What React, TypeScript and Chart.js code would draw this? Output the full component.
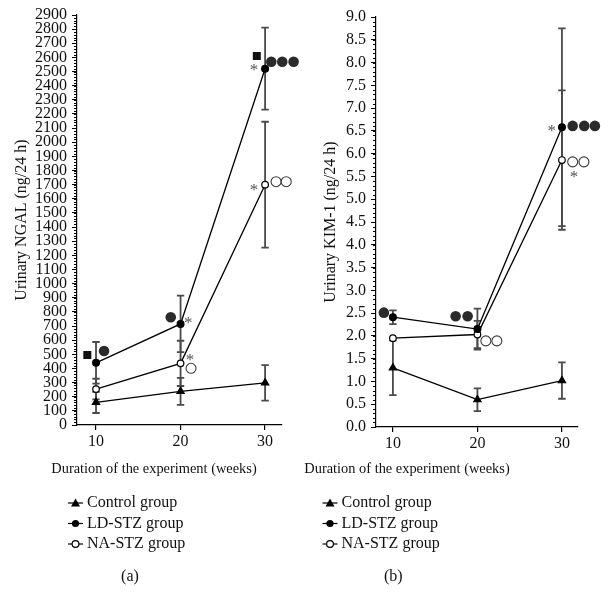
import React, { useEffect, useRef } from "react";
import { Chart, registerables } from "chart.js";

Chart.register(...registerables);

// ---------- data ----------
const weeks = [10, 20, 30];
const seriesNames = ["Control group", "LD-STZ group", "NA-STZ group"];

// (a) Urinary NGAL (ng/24 h)
const ngalControl = [160, 238, 298];
const ngalControlErr = [75, 95, 125];
const ngalLD = [440, 715, 2520];
const ngalLDErr = [147, 200, 290];
const ngalNA = [254, 436, 1700];
const ngalNAErr = [73, 160, 445];

// (b) Urinary KIM-1 (ng/24 h)
const kimControl = [1.3, 0.6, 1.02];
const kimControlErr = [0.6, 0.25, 0.4];
const kimLD = [2.41, 2.15, 6.58];
const kimLDErr = [0.15, 0.45, 2.17];
const kimNA = [1.95, 2.03, 5.86];
const kimNAErr = [0, 0.3, 1.53];

// significance symbols: [week, value, symbol]
const ngalMarks: [number, number, string][] = [
  [8.97, 495, "square"],
  [10.95, 523, "dot"],
  [18.84, 762, "dot"],
  [20.92, 743, "star"],
  [21.12, 483, "star"],
  [21.24, 401, "ring"],
  [29.02, 2610, "square"],
  [28.7, 2534, "star"],
  [30.73, 2569, "dot"],
  [32.03, 2569, "dot"],
  [33.37, 2569, "dot"],
  [28.7, 1685, "star"],
  [31.3, 1721, "ring"],
  [32.5, 1721, "ring"],
];
const kimMarks: [number, number, string][] = [
  [8.93, 2.51, "dot"],
  [17.42, 2.43, "dot"],
  [18.84, 2.43, "dot"],
  [21.0, 1.89, "ring"],
  [22.3, 1.89, "ring"],
  [28.78, 6.58, "star"],
  [31.27, 6.61, "dot"],
  [32.64, 6.61, "dot"],
  [33.9, 6.61, "dot"],
  [31.27, 5.82, "ring"],
  [32.6, 5.82, "ring"],
  [31.42, 5.57, "star"],
];

const xTitle = "Duration of the experiment (weeks)";
const FONT = "'Liberation Serif', 'Times New Roman', serif";

// ---------- plugins ----------
const errorBarsPlugin = {
  id: "errorBars",
  beforeDatasetsDraw(chart: any, _a: any, opts: any) {
    const { ctx } = chart;
    const xs = chart.scales.x;
    const ys = chart.scales.y;
    ctx.save();
    ctx.strokeStyle = "#4a4a4a";
    ctx.lineWidth = 1.8;
    chart.data.datasets.forEach((ds: any, di: number) => {
      const errs = opts.errors[di];
      ds.data.forEach((pt: any, i: number) => {
        const e = errs[i];
        if (!(e > 0)) return;
        const px = xs.getPixelForValue(pt.x);
        const top = ys.getPixelForValue(pt.y + e);
        const bot = ys.getPixelForValue(pt.y - e);
        ctx.beginPath();
        ctx.moveTo(px, top);
        ctx.lineTo(px, bot);
        ctx.moveTo(px - 3.7, top);
        ctx.lineTo(px + 3.7, top);
        ctx.moveTo(px - 3.7, bot);
        ctx.lineTo(px + 3.7, bot);
        ctx.stroke();
      });
    });
    ctx.restore();
  },
};

const minorTicksPlugin = {
  id: "minorTicks",
  afterDraw(chart: any, _a: any, opts: any) {
    const { ctx } = chart;
    const ys = chart.scales.y;
    const left = chart.chartArea.left;
    ctx.save();
    ctx.strokeStyle = "#000";
    ctx.lineWidth = 1;
    const n = Math.round((ys.max - ys.min) / opts.step);
    for (let k = 0; k <= n; k++) {
      const v = ys.min + k * opts.step;
      const py = Math.round(ys.getPixelForValue(v)) + 0.5;
      ctx.beginPath();
      ctx.moveTo(left - 3, py);
      ctx.lineTo(left, py);
      ctx.stroke();
    }
    ctx.restore();
  },
};

const sigMarksPlugin = {
  id: "sigMarks",
  afterDatasetsDraw(chart: any, _a: any, opts: any) {
    const { ctx } = chart;
    const xs = chart.scales.x;
    const ys = chart.scales.y;
    ctx.save();
    opts.marks.forEach(([mx, my, kind]: [number, number, string]) => {
      const px = xs.getPixelForValue(mx);
      const py = ys.getPixelForValue(my);
      if (kind === "dot") {
        ctx.fillStyle = "#2b2b2b";
        ctx.beginPath();
        ctx.arc(px, py, 5.3, 0, Math.PI * 2);
        ctx.fill();
      } else if (kind === "ring") {
        ctx.strokeStyle = "#3a3a3a";
        ctx.lineWidth = 1.1;
        ctx.fillStyle = "#fff";
        ctx.beginPath();
        ctx.arc(px, py, 5, 0, Math.PI * 2);
        ctx.fill();
        ctx.stroke();
      } else if (kind === "square") {
        ctx.fillStyle = "#111";
        ctx.fillRect(px - 4, py - 4, 8, 8);
      } else if (kind === "star") {
        ctx.fillStyle = "#555";
        ctx.font = `17px ${FONT}`;
        ctx.textAlign = "center";
        ctx.textBaseline = "alphabetic";
        ctx.fillText("*", px, py + 8.5);
      }
    });
    ctx.restore();
  },
};

function drawMarker(ctx: any, kind: string, x: number, y: number) {
  ctx.fillStyle = "#000";
  ctx.strokeStyle = "#000";
  ctx.lineWidth = 1.2;
  if (kind === "triangle") {
    ctx.beginPath();
    ctx.moveTo(x, y - 4.5);
    ctx.lineTo(x + 4.5, y + 3.5);
    ctx.lineTo(x - 4.5, y + 3.5);
    ctx.closePath();
    ctx.fill();
  } else if (kind === "dot") {
    ctx.beginPath();
    ctx.arc(x, y, 3.6, 0, Math.PI * 2);
    ctx.fill();
  } else {
    ctx.fillStyle = "#fff";
    ctx.beginPath();
    ctx.arc(x, y, 3.4, 0, Math.PI * 2);
    ctx.fill();
    ctx.stroke();
  }
}

const panelTextPlugin = {
  id: "panelText",
  afterDraw(chart: any, _a: any, opts: any) {
    const { ctx } = chart;
    ctx.save();
    ctx.fillStyle = "#111";
    ctx.textBaseline = "middle";
    ctx.font = `14.4px ${FONT}`;
    ctx.textAlign = "center";
    ctx.fillText(opts.title, opts.titleX, opts.titleY);
    const kinds = ["triangle", "dot", "ring"];
    chart.data.datasets.forEach((ds: any, i: number) => {
      const y = opts.legendY + i * opts.legendGap;
      ctx.strokeStyle = "#000";
      ctx.lineWidth = 1.2;
      ctx.beginPath();
      ctx.moveTo(opts.legendX - 7.5, y);
      ctx.lineTo(opts.legendX + 7.5, y);
      ctx.stroke();
      drawMarker(ctx, kinds[i], opts.legendX, y);
      ctx.fillStyle = "#111";
      ctx.font = `16px ${FONT}`;
      ctx.textAlign = "left";
      ctx.fillText(ds.label, opts.legendX + 11.5, y);
    });
    ctx.font = `16px ${FONT}`;
    ctx.textAlign = "center";
    ctx.fillText(opts.letter, opts.letterX, opts.letterY);
    ctx.restore();
  },
};

// ---------- chart builder ----------
type PanelSpec = {
  control: number[];
  ld: number[];
  na: number[];
  errs: number[][];
  marks: [number, number, string][];
  yTitle: string;
  yMax: number;
  yStep: number;
  minorStep: number;
  decimals: number;
  xMin: number;
  xMax: number;
  padLeft: number;
  axisWidth: number;
  padRight: number;
  padTop: number;
  padBottom: number;
  titleX: number;
  legendX: number;
  letterX: number;
  letter: string;
};

function buildConfig(p: PanelSpec): any {
  const mk = (vals: number[]) => weeks.map((w, i) => ({ x: w, y: vals[i] }));
  const base = {
    borderColor: "#000",
    borderWidth: 1.3,
    tension: 0,
    clip: false as any,
    pointBorderColor: "#000",
    pointBorderWidth: 1.2,
  };
  return {
    type: "line",
    data: {
      datasets: [
        { ...base, label: seriesNames[0], data: mk(p.control), pointStyle: "triangle", pointRadius: 4.2, pointBackgroundColor: "#000" },
        { ...base, label: seriesNames[1], data: mk(p.ld), pointStyle: "circle", pointRadius: 3.4, pointBackgroundColor: "#000" },
        { ...base, label: seriesNames[2], data: mk(p.na), pointStyle: "circle", pointRadius: 3.3, pointBackgroundColor: "#fff" },
      ],
    },
    options: {
      responsive: false,
      animation: false,
      events: [],
      layout: { padding: { left: p.padLeft, right: p.padRight, top: p.padTop, bottom: p.padBottom } },
      plugins: {
        legend: { display: false },
        tooltip: { enabled: false },
        errorBars: { errors: p.errs },
        minorTicks: { step: p.minorStep },
        sigMarks: { marks: p.marks },
        panelText: {
          title: xTitle,
          titleX: p.titleX,
          titleY: 461,
          legendX: p.legendX,
          legendY: 495,
          legendGap: 20.5,
          letter: p.letter,
          letterX: p.letterX,
          letterY: 569,
        },
      },
      scales: {
        x: {
          type: "linear",
          min: p.xMin,
          max: p.xMax,
          afterBuildTicks: (s: any) => {
            s.ticks = weeks.map((w) => ({ value: w }));
          },
          afterFit: (s: any) => {
            s.height = 30;
            s.paddingLeft = 0;
            s.paddingRight = 0;
          },
          grid: { display: true, drawOnChartArea: false, drawTicks: true, tickLength: 5, color: "#000", lineWidth: 1.2 },
          border: { display: true, color: "#000", width: 1.2 },
          ticks: { color: "#111", font: { family: FONT, size: 16 }, padding: 2, autoSkip: false, maxRotation: 0 },
        },
        y: {
          min: 0,
          max: p.yMax,
          afterFit: (s: any) => {
            s.width = p.axisWidth;
            s.paddingTop = 0;
            s.paddingBottom = 0;
          },
          grid: { display: true, drawOnChartArea: false, drawTicks: true, tickLength: 5, color: "#000", lineWidth: 1 },
          border: { display: true, color: "#000", width: 1.2 },
          ticks: {
            stepSize: p.yStep,
            autoSkip: false,
            color: "#111",
            padding: 5,
            font: { family: FONT, size: 16, lineHeight: 1 },
            callback: (v: any) => Number(v).toFixed(p.decimals),
          },
          title: {
            display: true,
            text: p.yTitle,
            color: "#111",
            font: { family: FONT, size: 16 },
            padding: { top: 4, bottom: 2 },
          },
        },
      },
    },
    plugins: [errorBarsPlugin, minorTicksPlugin, sigMarksPlugin, panelTextPlugin],
  };
}

const panelA: PanelSpec = {
  control: ngalControl,
  ld: ngalLD,
  na: ngalNA,
  errs: [ngalControlErr, ngalLDErr, ngalNAErr],
  marks: ngalMarks,
  yTitle: "Urinary NGAL (ng/24 h)",
  yMax: 2900,
  yStep: 100,
  minorStep: 20,
  decimals: 0,
  xMin: 7.75,
  xMax: 32,
  padLeft: 0,
  axisWidth: 69,
  padRight: 20,
  padTop: 7,
  padBottom: 145,
  titleX: 146,
  legendX: 67.5,
  letterX: 122,
  letter: "(a)",
};

const panelB: PanelSpec = {
  control: kimControl,
  ld: kimLD,
  na: kimNA,
  errs: [kimControlErr, kimLDErr, kimNAErr],
  marks: kimMarks,
  yTitle: "Urinary KIM-1 (ng/24 h)",
  yMax: 9,
  yStep: 0.5,
  minorStep: 0.1,
  decimals: 1,
  xMin: 8,
  xMax: 31.9,
  padLeft: 15.4,
  axisWidth: 58.6,
  padRight: 25,
  padTop: 9,
  padBottom: 143,
  titleX: 105,
  legendX: 28,
  letterX: 91.3,
  letter: "(b)",
};

function Panel({ spec, width }: { spec: PanelSpec; width: number }) {
  const ref = useRef<HTMLCanvasElement>(null);
  useEffect(() => {
    if (!ref.current) return;
    const chart = new Chart(ref.current, buildConfig(spec));
    return () => chart.destroy();
  }, [spec]);
  return <canvas ref={ref} width={width} height={592} style={{ display: "block", width, height: 592 }} />;
}

export default function App() {
  return (
    <div style={{ display: "flex", width: 595, height: 592, background: "#fff" }}>
      <Panel spec={panelA} width={294} />
      <Panel spec={panelB} width={301} />
    </div>
  );
}
